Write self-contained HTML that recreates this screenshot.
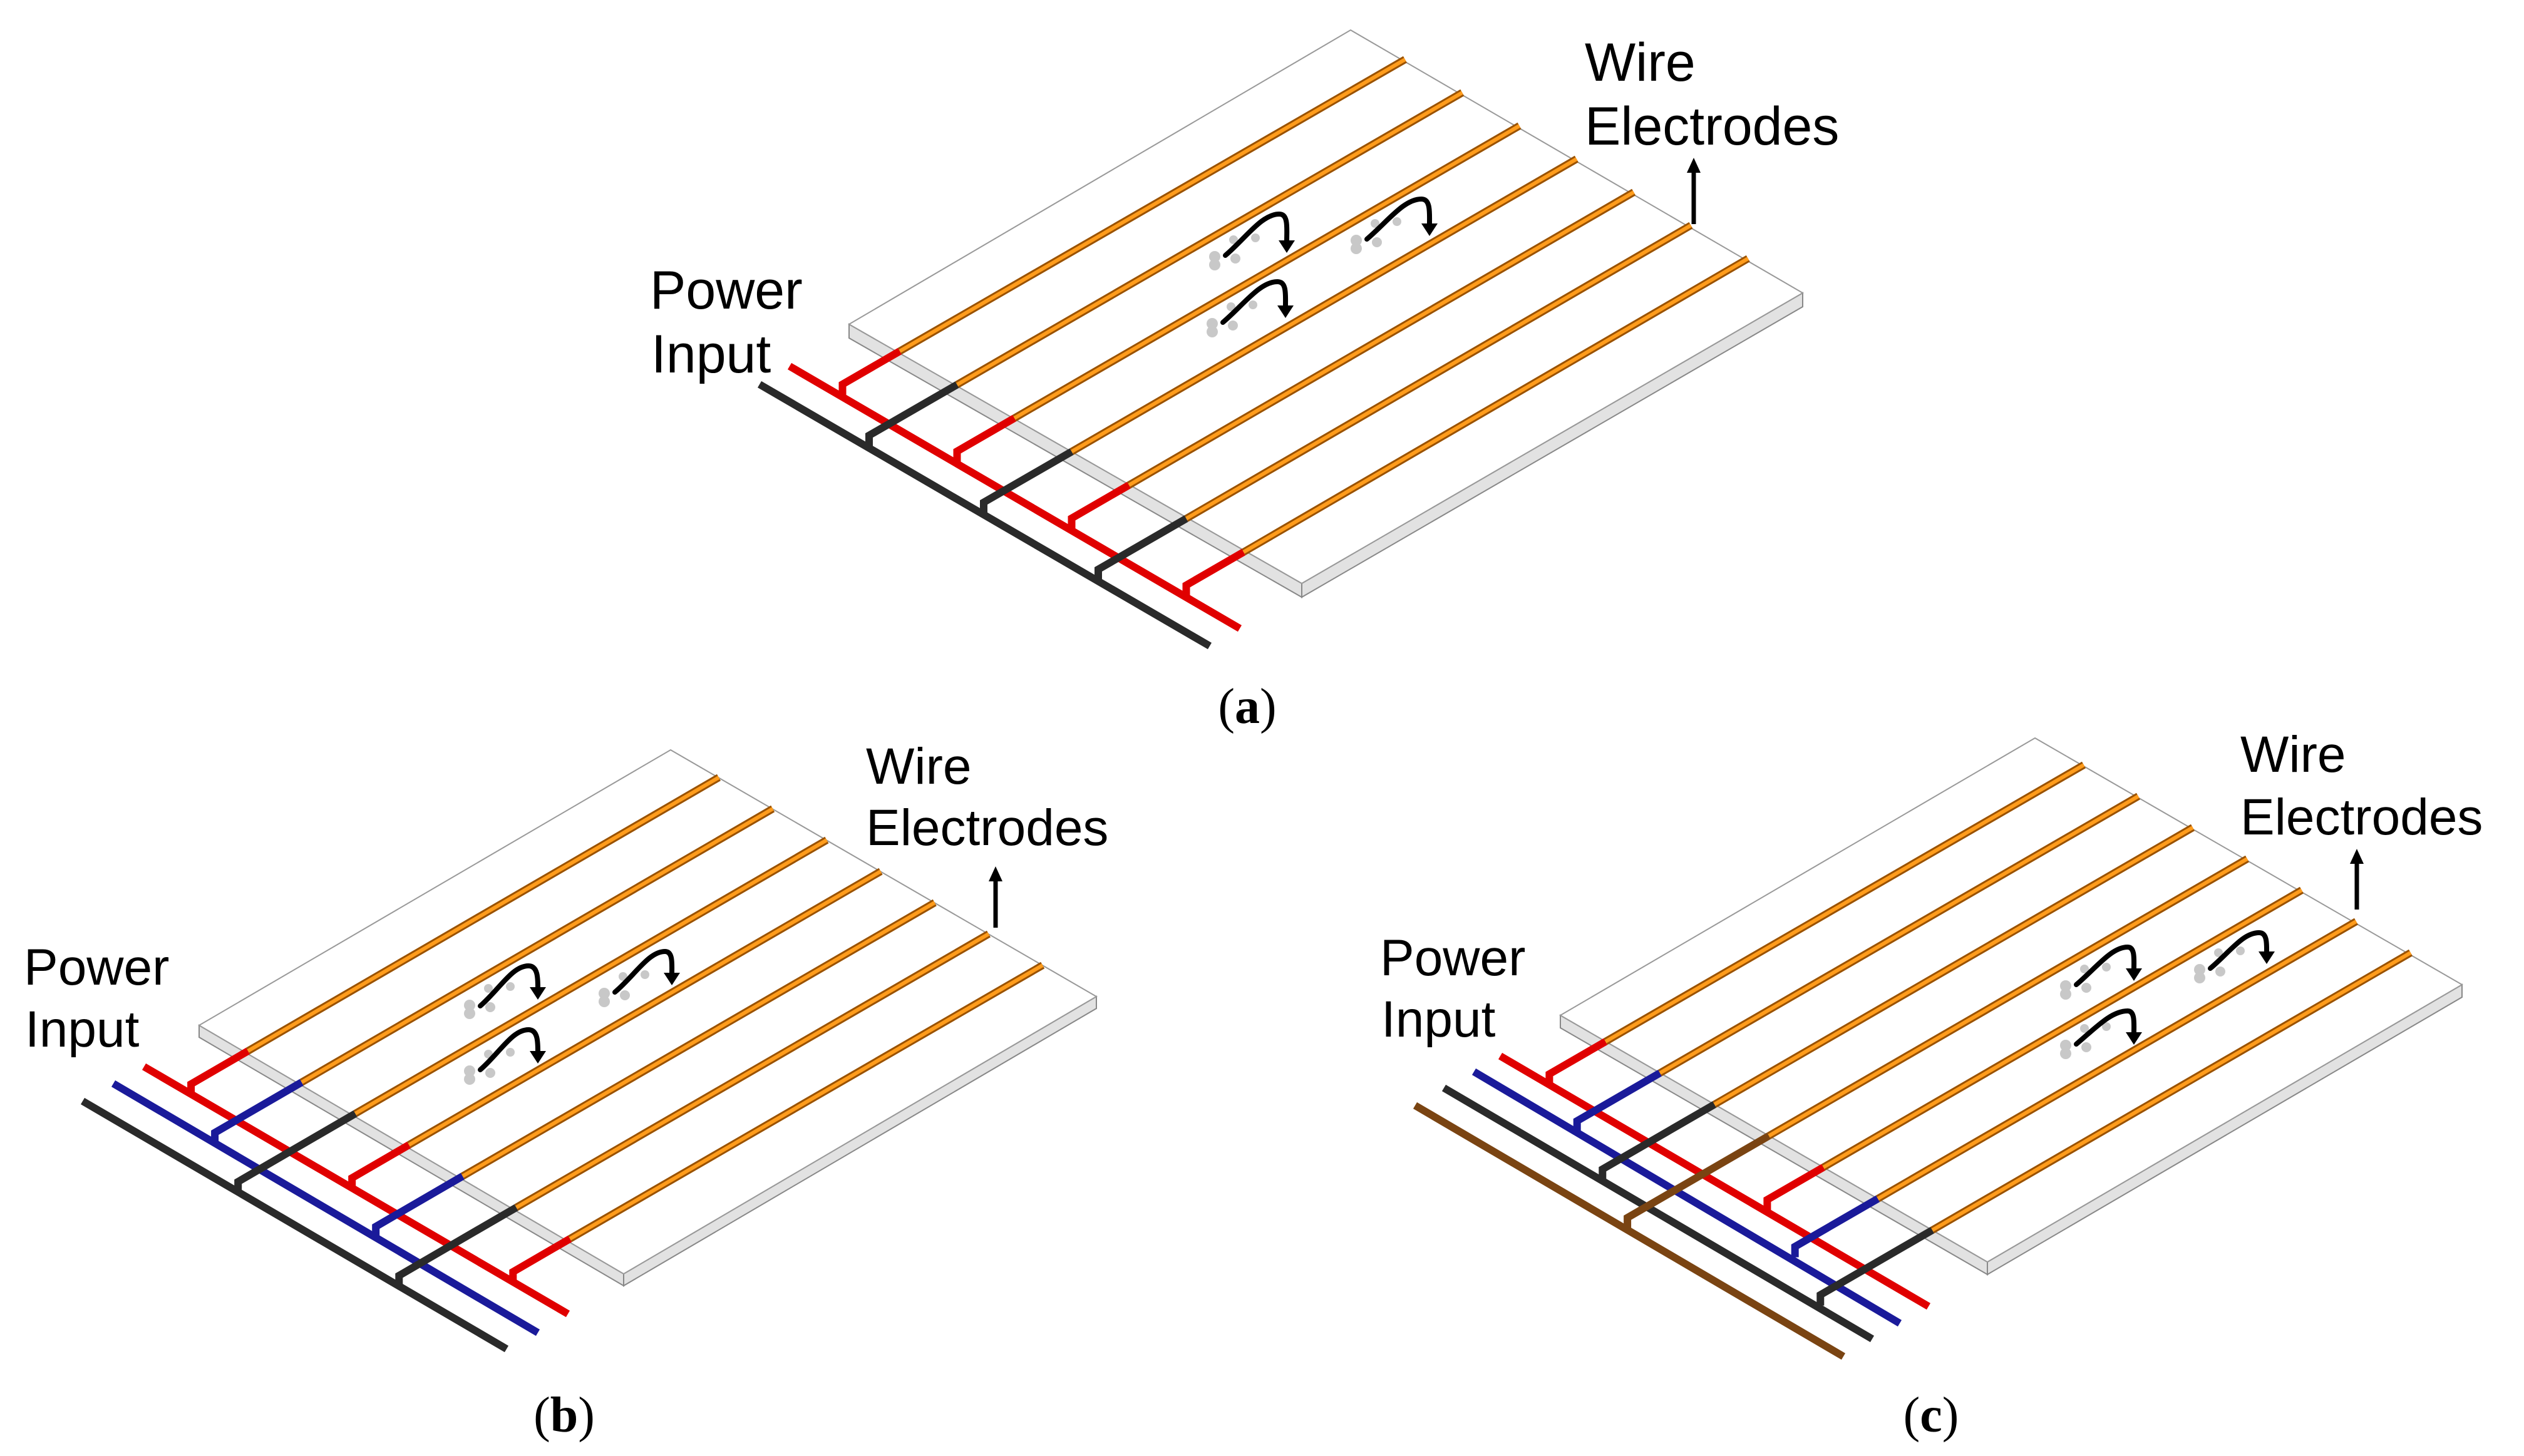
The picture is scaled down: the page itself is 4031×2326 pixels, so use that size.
<!DOCTYPE html>
<html><head><meta charset="utf-8"><style>
html,body{margin:0;padding:0;background:#fff;}
svg{display:block;}
text{font-family:"Liberation Sans",Arial,sans-serif;fill:#000;}
.cap{font-family:"Liberation Serif",serif;}
.ow{stroke:#9a5200;stroke-width:12;fill:none;}
.oi{stroke:#ff9c1c;stroke-width:6;fill:none;}
.rd{stroke:#e00000;stroke-width:12;fill:none;stroke-linejoin:miter;}
.bl{stroke:#1a1a9a;stroke-width:12;fill:none;}
.bk{stroke:#2a2a2a;stroke-width:12;fill:none;}
.br{stroke:#7a4412;stroke-width:12;fill:none;}
.top{fill:#fff;stroke:#999;stroke-width:2;}
.side{fill:#e2e2e2;stroke:#888;stroke-width:2;}
.ca{stroke:#000;stroke-width:8;fill:none;stroke-linecap:round;}
.dot{fill:#c8c8c8;}
</style></head><body>
<svg width="4031" height="2326" viewBox="0 0 4031 2326" xmlns="http://www.w3.org/2000/svg">

<!-- ===== Panel (a) ===== -->
<polygon class="side" points="1356,518 2079,932 2079,954 1356,540"/>
<polygon class="side" points="2079,932 2879,468 2879,490 2079,954"/>
<polygon class="top" points="2157,48 2879,468 2079,932 1356,518"/>
<g>
<path class="ow" d="M1437,561L2244,95M1528.5,614.5L2335.3,148M1620,668L2426.6,201M1711.5,721.5L2517.9,254M1803,775L2609.2,307M1894.5,828.5L2700.5,360M1986,882L2791.8,413"/>
<path class="oi" d="M1437,561L2244,95M1528.5,614.5L2335.3,148M1620,668L2426.6,201M1711.5,721.5L2517.9,254M1803,775L2609.2,307M1894.5,828.5L2700.5,360M1986,882L2791.8,413"/>
</g>
<line class="bk" x1="1213" y1="614" x2="1932" y2="1032"/>
<line class="rd" x1="1261" y1="585" x2="1980" y2="1004"/>
<path class="rd" d="M1437,561L1345.5,613.9L1345.5,633.9M1620,668L1528.5,720.9L1528.5,740.9M1803,775L1711.5,827.9L1711.5,847.9M1986,882L1894.5,934.9L1894.5,954.9"/>
<path class="bk" d="M1528.5,614.5L1388,695.6L1388,715.6M1711.5,721.5L1571,802.6L1571,822.6M1894.5,828.5L1754,909.6L1754,929.6"/>
<g>
<circle class="dot" cx="1940" cy="410" r="9"/><circle class="dot" cx="1940" cy="423" r="9"/><circle class="dot" cx="1973" cy="413" r="8"/><circle class="dot" cx="1970" cy="383" r="7"/><circle class="dot" cx="2005" cy="380" r="7"/>
<path class="ca" d="M1957,408C1990,380 2015,342 2043,342C2058,342 2055,365 2055,385"/>
<polygon points="2042,384 2068,384 2055,404"/>
<circle class="dot" cx="2166" cy="384" r="9"/><circle class="dot" cx="2166" cy="397" r="9"/><circle class="dot" cx="2199" cy="387" r="8"/><circle class="dot" cx="2196" cy="357" r="7"/><circle class="dot" cx="2231" cy="354" r="7"/>
<path class="ca" d="M2183,382C2216,354 2242,318 2270,318C2285,318 2283,340 2283,358"/>
<polygon points="2270,357 2296,357 2283,377"/>
<circle class="dot" cx="1936" cy="517" r="9"/><circle class="dot" cx="1936" cy="530" r="9"/><circle class="dot" cx="1969" cy="520" r="8"/><circle class="dot" cx="1966" cy="490" r="7"/><circle class="dot" cx="2001" cy="487" r="7"/>
<path class="ca" d="M1953,515C1986,487 2012,450 2040,450C2055,450 2053,470 2053,489"/>
<polygon points="2040,488 2066,488 2053,508"/>
</g>
<text x="1038" y="493" font-size="86">Power</text>
<text x="1040" y="595" font-size="86">Input</text>
<text x="2531" y="129" font-size="86">Wire</text>
<text x="2531" y="231" font-size="86">Electrodes</text>
<line x1="2705" y1="358" x2="2705" y2="272" stroke="#000" stroke-width="7"/>
<polygon points="2694,276 2716,276 2705,252"/>
<text class="cap" x="1992" y="1155" font-size="80" text-anchor="middle">(<tspan font-weight="bold">a</tspan>)</text>

<!-- ===== Panel (b) ===== -->
<polygon class="side" points="318,1638 996,2035 996,2054 318,1657"/>
<polygon class="side" points="996,2035 1751,1592 1751,1611 996,2054"/>
<polygon class="top" points="1071,1198 1751,1592 996,2035 318,1638"/>
<g>
<path class="ow" d="M396,1679L1148,1242M481.7,1729L1234.2,1292M567.4,1779L1320.4,1342M653.1,1829L1406.6,1392M738.8,1879L1492.8,1442M824.5,1929L1579,1492M910.2,1979L1665.2,1542"/>
<path class="oi" d="M396,1679L1148,1242M481.7,1729L1234.2,1292M567.4,1779L1320.4,1342M653.1,1829L1406.6,1392M738.8,1879L1492.8,1442M824.5,1929L1579,1492M910.2,1979L1665.2,1542"/>
</g>
<line class="bk" x1="132" y1="1759" x2="809" y2="2155"/>
<line class="bl" x1="181" y1="1731" x2="859" y2="2129"/>
<line class="rd" x1="230" y1="1704" x2="907" y2="2099"/>
<path class="rd" d="M396,1679L305.1,1731.8L305.1,1747.8M653.1,1829L562.2,1881.8L562.2,1897.8M910.2,1979L819.3,2031.8L819.3,2047.8"/>
<path class="bl" d="M481.7,1729L343.1,1809.5L343.1,1825.5M738.8,1879L600.2,1959.5L600.2,1975.5"/>
<path class="bk" d="M567.4,1779L380.2,1887.8L380.2,1903.8M824.5,1929L637.3,2037.8L637.3,2053.8"/>
<g>
<circle class="dot" cx="750" cy="1606" r="9"/><circle class="dot" cx="750" cy="1619" r="9"/><circle class="dot" cx="783" cy="1609" r="8"/><circle class="dot" cx="780" cy="1579" r="7"/><circle class="dot" cx="815" cy="1576" r="7"/>
<path class="ca" d="M767,1607C798,1580 818,1543 844,1543C859,1543 859,1563 859,1578"/>
<polygon points="846,1577 872,1577 859,1597"/>
<circle class="dot" cx="965" cy="1587" r="9"/><circle class="dot" cx="965" cy="1600" r="9"/><circle class="dot" cx="998" cy="1590" r="8"/><circle class="dot" cx="995" cy="1560" r="7"/><circle class="dot" cx="1030" cy="1557" r="7"/>
<path class="ca" d="M982,1585C1014,1558 1036,1520 1062,1520C1075,1520 1073,1540 1073,1555"/>
<polygon points="1060,1554 1086,1554 1073,1574"/>
<circle class="dot" cx="750" cy="1711" r="9"/><circle class="dot" cx="750" cy="1724" r="9"/><circle class="dot" cx="783" cy="1714" r="8"/><circle class="dot" cx="780" cy="1684" r="7"/><circle class="dot" cx="815" cy="1681" r="7"/>
<path class="ca" d="M767,1709C798,1682 818,1645 844,1645C859,1645 859,1665 859,1680"/>
<polygon points="846,1679 872,1679 859,1699"/>
</g>
<text x="38" y="1573" font-size="82">Power</text>
<text x="40" y="1672" font-size="82">Input</text>
<text x="1383" y="1252" font-size="82">Wire</text>
<text x="1383" y="1350" font-size="82">Electrodes</text>
<line x1="1590" y1="1482" x2="1590" y2="1404" stroke="#000" stroke-width="7"/>
<polygon points="1579,1408 1601,1408 1590,1384"/>
<text class="cap" x="901" y="2287" font-size="80" text-anchor="middle">(<tspan font-weight="bold">b</tspan>)</text>

<!-- ===== Panel (c) ===== -->
<polygon class="side" points="2492,1622 3174,2016 3174,2036 2492,1642"/>
<polygon class="side" points="3174,2016 3932,1573 3932,1593 3174,2036"/>
<polygon class="top" points="3250,1179 3932,1573 3174,2016 2492,1622"/>
<g>
<path class="ow" d="M2564,1664L3328,1222M2651,1714.2L3415,1272M2738,1764.4L3502,1322M2825,1814.6L3589,1372M2912,1864.8L3676,1422M2999,1915L3763,1472M3086,1965.2L3850,1522"/>
<path class="oi" d="M2564,1664L3328,1222M2651,1714.2L3415,1272M2738,1764.4L3502,1322M2825,1814.6L3589,1372M2912,1864.8L3676,1422M2999,1915L3763,1472M3086,1965.2L3850,1522"/>
</g>
<line class="br" x1="2260" y1="1766" x2="2944" y2="2167"/>
<line class="bk" x1="2306" y1="1738" x2="2990" y2="2139"/>
<line class="bl" x1="2354" y1="1712" x2="3034" y2="2114"/>
<line class="rd" x1="2396" y1="1687" x2="3080" y2="2087"/>
<path class="rd" d="M2564,1664L2474.4,1715.8L2474.4,1732.8M2912,1864.8L2822.4,1916.6L2822.4,1933.6"/>
<path class="bl" d="M2651,1714.2L2518.7,1790.7L2518.7,1807.7M2999,1915L2866.7,1991.5L2866.7,2008.5"/>
<path class="bk" d="M2738,1764.4L2559.3,1867.8L2559.3,1884.8M3086,1965.2L2907.3,2068.6L2907.3,2085.6"/>
<path class="br" d="M2825,1814.6L2599.1,1945.3L2599.1,1962.3"/>
<g>
<circle class="dot" cx="3299" cy="1575" r="9"/><circle class="dot" cx="3299" cy="1588" r="9"/><circle class="dot" cx="3332" cy="1578" r="8"/><circle class="dot" cx="3329" cy="1548" r="7"/><circle class="dot" cx="3364" cy="1545" r="7"/>
<path class="ca" d="M3316,1573C3348,1546 3372,1513 3398,1513C3410,1513 3408,1533 3408,1548"/>
<polygon points="3395,1547 3421,1547 3408,1567"/>
<circle class="dot" cx="3513" cy="1549" r="9"/><circle class="dot" cx="3513" cy="1562" r="9"/><circle class="dot" cx="3546" cy="1552" r="8"/><circle class="dot" cx="3543" cy="1522" r="7"/><circle class="dot" cx="3578" cy="1519" r="7"/>
<path class="ca" d="M3530,1547C3562,1520 3582,1490 3608,1490C3621,1490 3620,1508 3620,1521"/>
<polygon points="3607,1520 3633,1520 3620,1540"/>
<circle class="dot" cx="3299" cy="1670" r="9"/><circle class="dot" cx="3299" cy="1683" r="9"/><circle class="dot" cx="3332" cy="1673" r="8"/><circle class="dot" cx="3329" cy="1643" r="7"/><circle class="dot" cx="3364" cy="1640" r="7"/>
<path class="ca" d="M3316,1668C3348,1641 3372,1615 3398,1615C3410,1615 3408,1635 3408,1650"/>
<polygon points="3395,1649 3421,1649 3408,1669"/>
</g>
<text x="2204" y="1558" font-size="82">Power</text>
<text x="2206" y="1656" font-size="82">Input</text>
<text x="3578" y="1233" font-size="82">Wire</text>
<text x="3578" y="1333" font-size="82">Electrodes</text>
<line x1="3764" y1="1453" x2="3764" y2="1376" stroke="#000" stroke-width="7"/>
<polygon points="3753,1380 3775,1380 3764,1356"/>
<text class="cap" x="3084" y="2287" font-size="80" text-anchor="middle">(<tspan font-weight="bold">c</tspan>)</text>
</svg>
</body></html>
